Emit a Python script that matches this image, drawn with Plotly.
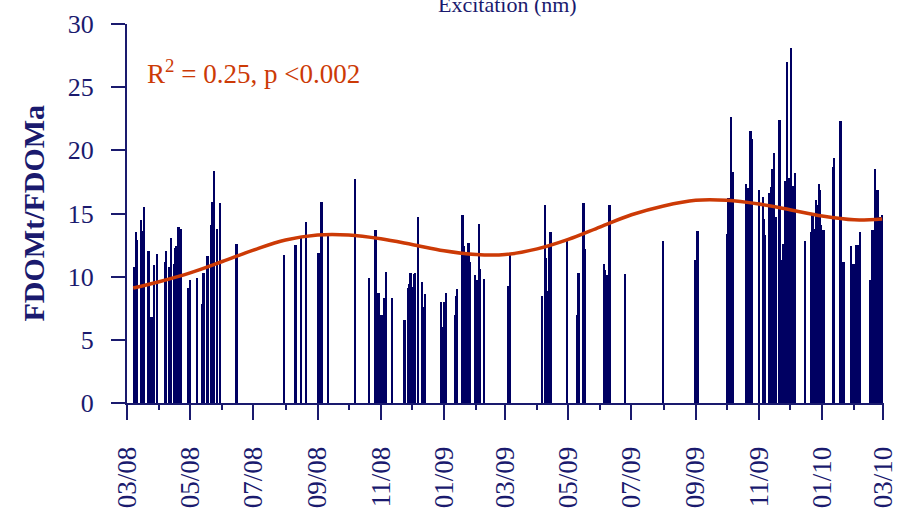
import plotly.graph_objects as go

# Sampling dates and FDOMt/FDOMa ratios
sample_dates = [
    "2008-03-08", "2008-03-10", "2008-03-11", "2008-03-15", "2008-03-16", "2008-03-18",
    "2008-03-22", "2008-03-25", "2008-03-27", "2008-03-30", "2008-04-07", "2008-04-08",
    "2008-04-11", "2008-04-13", "2008-04-16", "2008-04-17", "2008-04-18", "2008-04-20",
    "2008-04-22", "2008-04-29", "2008-05-01", "2008-05-08", "2008-05-13", "2008-05-14",
    "2008-05-18", "2008-05-21", "2008-05-22", "2008-05-24", "2008-05-27", "2008-05-30",
    "2008-06-15", "2008-07-31", "2008-08-11", "2008-08-16", "2008-08-21", "2008-09-02",
    "2008-09-05", "2008-09-11", "2008-10-07", "2008-10-21", "2008-10-27", "2008-10-30",
    "2008-11-02", "2008-11-04", "2008-11-06", "2008-11-12", "2008-11-24", "2008-11-28",
    "2008-11-29", "2008-11-30", "2008-12-01", "2008-12-03", "2008-12-04", "2008-12-07",
    "2008-12-11", "2008-12-12", "2008-12-14", "2008-12-29", "2008-12-31", "2009-01-01",
    "2009-01-03", "2009-01-12", "2009-01-13", "2009-01-14", "2009-01-19", "2009-01-20",
    "2009-01-21", "2009-01-23", "2009-01-25", "2009-01-26", "2009-01-31", "2009-02-02",
    "2009-02-04", "2009-02-05", "2009-02-09", "2009-03-04", "2009-03-06", "2009-04-06",
    "2009-04-09", "2009-04-10", "2009-04-11", "2009-04-13", "2009-04-14", "2009-04-30",
    "2009-05-10", "2009-05-11", "2009-05-16", "2009-05-17", "2009-06-05", "2009-06-06",
    "2009-06-07", "2009-06-10", "2009-06-25", "2009-08-01", "2009-09-01", "2009-09-03",
    "2009-10-02", "2009-10-03", "2009-10-05", "2009-10-07", "2009-10-20", "2009-10-22",
    "2009-10-24", "2009-10-25", "2009-11-01", "2009-11-05", "2009-11-06", "2009-11-07",
    "2009-11-11", "2009-11-13", "2009-11-14", "2009-11-16", "2009-11-18", "2009-11-21",
    "2009-11-24", "2009-11-25", "2009-11-27", "2009-11-28", "2009-11-29", "2009-11-30",
    "2009-12-02", "2009-12-03", "2009-12-04", "2009-12-06", "2009-12-16", "2009-12-22",
    "2009-12-23", "2009-12-25", "2009-12-26", "2009-12-27", "2009-12-29", "2009-12-30",
    "2009-12-31", "2010-01-02", "2010-01-03", "2010-01-12", "2010-01-13", "2010-01-19",
    "2010-01-21", "2010-01-22", "2010-01-29", "2010-01-30", "2010-02-01", "2010-02-03",
    "2010-02-05", "2010-02-07", "2010-02-17", "2010-02-19", "2010-02-20", "2010-02-21",
    "2010-02-22", "2010-02-24", "2010-02-25", "2010-02-26", "2010-02-28",
]
fdom_ratio = [
    10.8, 13.5, 12.9, 14.5, 13.6, 15.5,
    12.0, 6.8, 10.9, 11.8, 11.2, 12.0,
    10.8, 13.1, 11.0, 12.3, 12.4, 13.9,
    13.8, 9.1, 9.7, 9.9, 7.8, 10.3,
    11.6, 14.1, 15.9, 18.4, 13.8, 15.8,
    12.6, 11.7, 12.5, 13.2, 14.3, 11.9,
    15.9, 13.2, 17.7, 9.9, 13.7, 8.7,
    7.0, 8.3, 10.4, 8.3, 6.6, 9.1,
    9.4, 10.3, 9.2, 10.2, 10.3, 14.7,
    9.6, 7.6, 8.6, 8.0, 6.0, 8.0,
    8.7, 7.0, 8.5, 9.0, 14.9, 12.4,
    10.2, 11.8, 12.7, 11.2, 10.1, 9.7,
    14.2, 10.6, 9.8, 9.3, 11.7, 8.5,
    15.7, 11.5, 8.9, 12.4, 13.5, 12.8,
    7.0, 10.3, 15.8, 12.2, 11.0, 10.5,
    10.1, 15.7, 10.2, 12.8, 11.3, 13.6,
    13.4, 16.2, 22.6, 18.3, 17.3, 17.0,
    21.5, 20.9, 16.9, 16.3, 14.6, 13.3,
    16.6, 17.1, 18.5, 19.8, 14.7, 22.4,
    11.3, 12.6, 17.6, 27.0, 16.8, 17.8,
    28.1, 14.7, 17.2, 18.2, 12.8, 13.5,
    15.0, 13.8, 16.1, 15.7, 17.3, 16.9,
    14.1, 13.7, 13.7, 18.7, 19.4, 22.3,
    11.2, 11.2, 12.4, 11.0, 11.0, 12.5,
    12.5, 13.5, 9.7, 13.7, 12.5, 18.5,
    16.9, 16.9, 12.4, 14.7, 14.9,
]

# Seasonal regression fit
fit_dates = [
    "2008-03-07", "2008-04-01", "2008-05-01", "2008-06-01", "2008-07-01", "2008-08-01",
    "2008-09-01", "2008-10-01", "2008-11-01", "2008-12-01", "2009-01-01", "2009-02-01",
    "2009-03-01", "2009-04-01", "2009-05-01", "2009-06-01", "2009-07-01", "2009-08-01",
    "2009-09-01", "2009-10-01", "2009-11-01", "2009-12-01", "2010-01-01", "2010-02-01",
    "2010-02-28",
]
fit_values = [
    9.1, 9.6, 10.3, 11.2, 12.1, 12.9,
    13.3, 13.3, 13.0, 12.55, 12.05, 11.75,
    11.75, 12.2, 12.95, 13.95, 14.9, 15.6,
    16.05, 16.05, 15.75, 15.3, 14.8, 14.5,
    14.57,
]

# Labelled (bi-monthly) and minor (monthly) tick positions
major_ticks = [
    "2008-03-01", "2008-05-01", "2008-07-01", "2008-09-01", "2008-11-01",
    "2009-01-01", "2009-03-01", "2009-05-01", "2009-07-01", "2009-09-01",
    "2009-11-01", "2010-01-01", "2010-03-01",
]
major_labels = [
    "03/08", "05/08", "07/08", "09/08", "11/08", "01/09", "03/09",
    "05/09", "07/09", "09/09", "11/09", "01/10", "03/10",
]
minor_ticks = [
    "2008-04-01", "2008-06-01", "2008-08-01", "2008-10-01", "2008-12-01",
    "2009-02-01", "2009-04-01", "2009-06-01", "2009-08-01", "2009-10-01",
    "2009-12-01", "2010-02-01",
]

NAVY = "#000062"
AXIS = "#1a1a6e"
FIT = "#cc3a06"
FONT = "Liberation Serif"
DAY_MS = 86400000

fig = go.Figure()
fig.add_trace(go.Bar(
    x=sample_dates, y=fdom_ratio,
    width=[1.7 * DAY_MS] * len(sample_dates),
    marker=dict(color=NAVY, line=dict(width=0)),
    showlegend=False,
))
fig.add_trace(go.Scatter(
    x=fit_dates, y=fit_values, mode="lines",
    line=dict(color=FIT, width=3.5, shape="spline", smoothing=1.0),
    showlegend=False,
))

fig.update_layout(
    width=898, height=514,
    margin=dict(l=127, r=14, t=24, b=111),
    paper_bgcolor="white", plot_bgcolor="white",
    bargap=0,
    font=dict(family=FONT, color=AXIS),
    xaxis=dict(
        type="date",
        range=["2008-03-01", "2010-03-01 18:00"],
        tickmode="array", tickvals=major_ticks, ticktext=major_labels,
        tickangle=-90,
        ticks="outside", ticklen=15, tickwidth=2, tickcolor=AXIS,
        ticklabelstandoff=16,
        minor=dict(tickmode="array", tickvals=minor_ticks, ticks="outside",
                   ticklen=5, tickwidth=2, tickcolor=AXIS),
        showline=True, linecolor=AXIS, linewidth=2,
        showgrid=False, zeroline=False,
        automargin=False,
        tickfont=dict(family=FONT, size=27, color=AXIS),
    ),
    yaxis=dict(
        range=[0, 30], dtick=5, tick0=0,
        ticks="outside", ticklen=14, tickwidth=2, tickcolor=AXIS,
        ticklabelstandoff=12,
        showline=True, linecolor=AXIS, linewidth=2,
        showgrid=False, zeroline=False,
        automargin=False,
        tickfont=dict(family=FONT, size=26, color=AXIS),
    ),
    annotations=[
        dict(
            text="<b>FDOMt/FDOMa</b>", textangle=-90,
            xref="paper", yref="paper", x=0, y=0.5,
            xanchor="center", yanchor="middle", xshift=-94,
            showarrow=False,
            font=dict(family=FONT, size=30, color=AXIS),
        ),
        dict(
            text="R<sup>2</sup> = 0.25, p <0.002",
            xref="paper", yref="y", x=0.0238, y=26.2,
            xanchor="left", yanchor="middle",
            showarrow=False,
            font=dict(family=FONT, size=27, color=FIT),
        ),
        dict(
            text="Excitation (nm)",
            xref="paper", yref="paper", x=0.503, y=1,
            xanchor="center", yanchor="middle", yshift=20,
            showarrow=False,
            font=dict(family=FONT, size=22, color=AXIS),
        ),
    ],
)

fig.write_html("out.html")
